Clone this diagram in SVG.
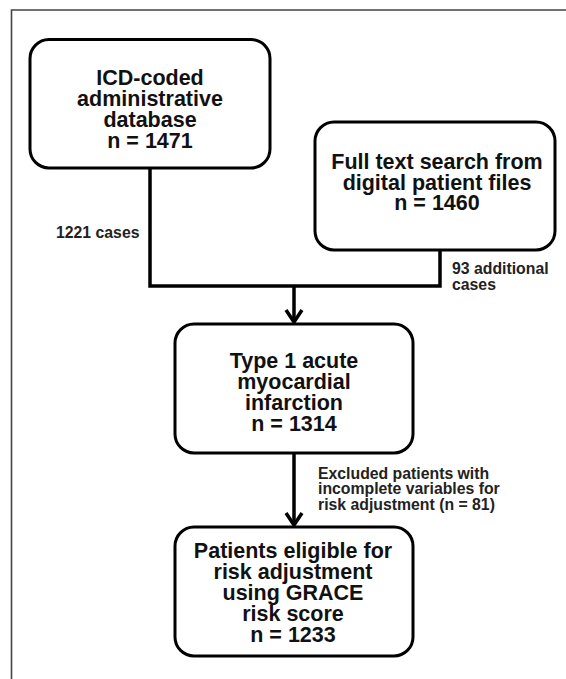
<svg xmlns="http://www.w3.org/2000/svg" width="566" height="679" viewBox="0 0 566 679">
<style>
.box{fill:#fff;stroke:#000;stroke-width:3}
.t{font-family:"Liberation Sans",Arial,sans-serif;font-weight:bold;font-size:21.5px;fill:#111;text-anchor:middle}
.l{font-family:"Liberation Sans",Arial,sans-serif;font-weight:bold;font-size:15.8px;fill:#222}
.c{fill:none;stroke:#000;stroke-width:3.5;stroke-linejoin:miter}
.frame{fill:none;stroke:#444;stroke-width:1.6}
</style>
<rect width="566" height="679" fill="#fff"/>
<path class="frame" d="M11.5,679 V10 H566"/>
<g id="connectors">
<path class="c" d="M150,168 V286 H440 V250"/>
<path class="c" d="M294,286 V322"/>
<path class="c" d="M286,310 L294,322 L302,310"/>
<path class="c" d="M294,453 V525"/>
<path class="c" d="M286,513 L294,525 L302,513"/>
</g>
<g id="n1">
<rect class="box" x="30" y="39.5" width="240" height="128.5" rx="19"/>
<text class="t" x="150" y="84.5">ICD-coded</text>
<text class="t" x="150" y="105.5">administrative</text>
<text class="t" x="150" y="126.5">database</text>
<text class="t" x="150" y="147.5">n = 1471</text>
</g>
<g id="n2">
<rect class="box" x="315" y="122" width="240" height="128" rx="19"/>
<text class="t" x="437" y="169">Full text search from</text>
<text class="t" x="437" y="189.5">digital patient files</text>
<text class="t" x="437" y="210">n = 1460</text>
</g>
<g id="n3">
<rect class="box" x="175" y="324" width="238" height="129" rx="19"/>
<text class="t" x="294" y="367.5">Type 1 acute</text>
<text class="t" x="294" y="389">myocardial</text>
<text class="t" x="294" y="410">infarction</text>
<text class="t" x="294" y="431">n = 1314</text>
</g>
<g id="n4">
<rect class="box" x="175" y="527" width="238" height="129" rx="19"/>
<text class="t" x="293" y="557.5">Patients eligible for</text>
<text class="t" x="293" y="579">risk adjustment</text>
<text class="t" x="293" y="600">using GRACE</text>
<text class="t" x="293" y="621">risk score</text>
<text class="t" x="293" y="642">n = 1233</text>
</g>
<g id="labels">
<text class="l" x="56" y="238">1221 cases</text>
<text class="l" x="452" y="273.5">93 additional</text>
<text class="l" x="452" y="289.5">cases</text>
<text class="l" x="318" y="478.5">Excluded patients with</text>
<text class="l" x="318" y="494">incomplete variables for</text>
<text class="l" x="318" y="509.5">risk adjustment (n = 81)</text>
</g>
</svg>
